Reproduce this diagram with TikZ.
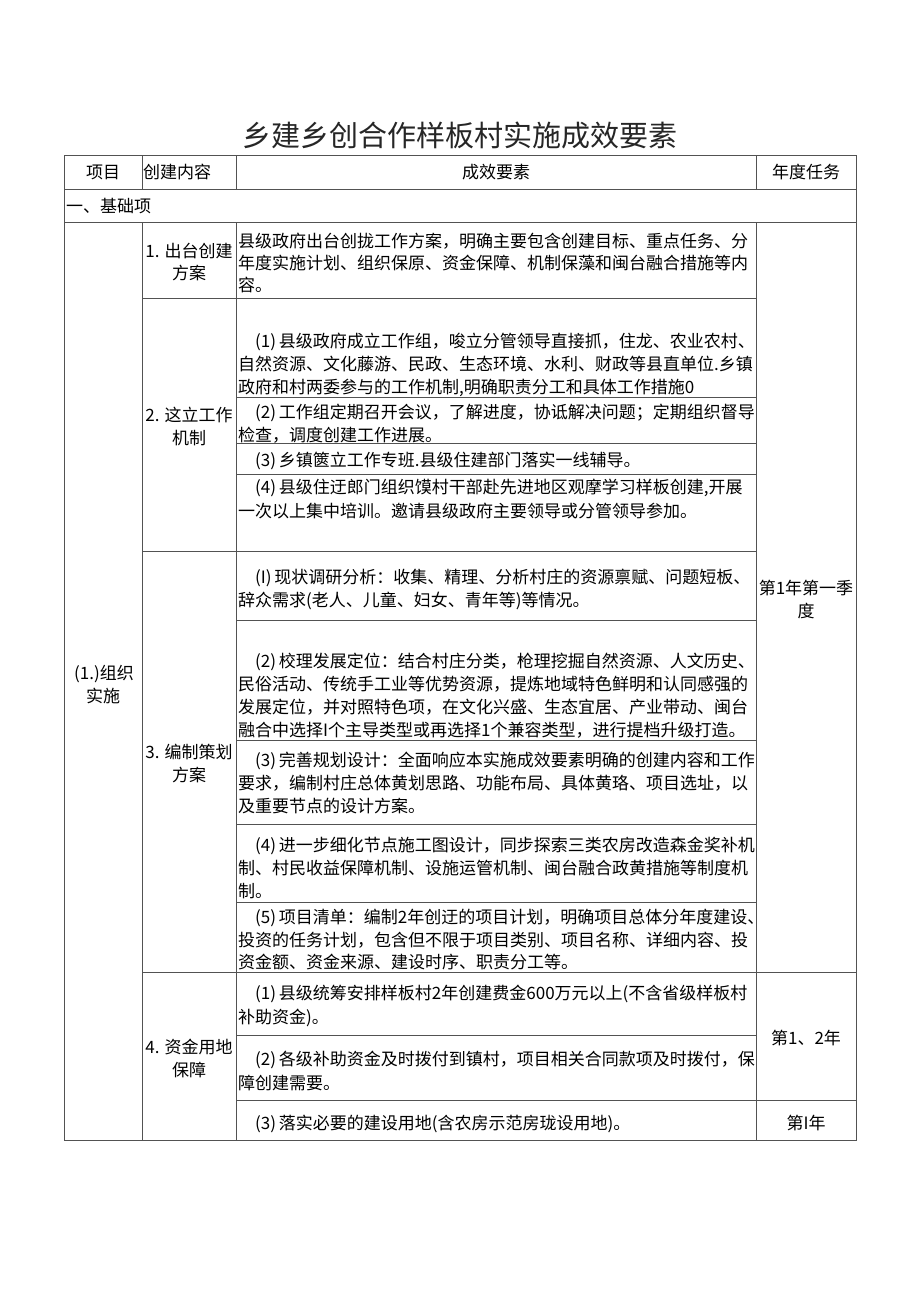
\documentclass[tikz,border=0pt]{standalone}
\usepackage{fontspec}
\newfontfamily\cjk{Noto Sans CJK SC}
\begin{document}
\begin{tikzpicture}[x=1pt,y=-1pt,
  grid/.style={draw=black!68, line width=0.9pt},
  ln/.style={anchor=base west, inner sep=0pt, yshift=-6.5pt, text=black, font=\cjk\fontsize{17}{20}\selectfont},
  lc/.style={anchor=base, inner sep=0pt, yshift=-6.5pt, text=black, font=\cjk\fontsize{17}{20}\selectfont},
  ttl/.style={anchor=base, inner sep=0pt, yshift=-11pt, text=black!85, font=\cjk\fontsize{29}{32}\selectfont}]
\fill[white] (0,0) rectangle (920,1301);
\useasboundingbox (0,0) rectangle (920,1301);

% title
\node[ttl] (title) at (460,135) {乡建乡创合作样板村实施成效要素};

% grid
\draw[grid] (64,155) rectangle (856,1140);
\draw[grid] (64,189) -- (856,189) (64,222) -- (856,222);
\draw[grid] (142,155) -- (142,189) (236,155) -- (236,189) (756,155) -- (756,189);
\draw[grid] (142,222) -- (142,1140) (236,222) -- (236,1140) (756,222) -- (756,1140);
\draw[grid] (142,298) -- (756,298) (142,551) -- (756,551) (142,972) -- (856,972) (236,1100) -- (856,1100);
\draw[grid] (236,397) -- (756,397) (236,443) -- (756,443) (236,474) -- (756,474);
\draw[grid] (236,620) -- (756,620) (236,740) -- (756,740) (236,824) -- (756,824) (236,902) -- (756,902);
\draw[grid] (236,1035) -- (756,1035);

% header
\node[lc] (h1) at (103,172) {项目};
\node[ln] (h2) at (143,172) {创建内容};
\node[lc] (h3) at (496,172) {成效要素};
\node[lc] (h4) at (806,172) {年度任务};
\node[ln] (s1) at (66,206) {一、基础项};

% column 1
\node[lc] (p1a) at (104,673) {(1.)组织};
\node[lc] (p1b) at (103,696) {实施};

% column 2
\node[lc] (c1a) at (189,251) {1. 出台创建};
\node[lc] (c1b) at (189,273) {方案};
\node[lc] (c2a) at (189,415) {2. 这立工作};
\node[lc] (c2b) at (189,438) {机制};
\node[lc] (c3a) at (189,752) {3. 编制策划};
\node[lc] (c3b) at (189,775) {方案};
\node[lc] (c4a) at (189,1047) {4. 资金用地};
\node[lc] (c4b) at (189,1070) {保障};

% year column
\node[lc] (y1a) at (806,588) {第1年第一季};
\node[lc] (y1b) at (806,611) {度};
\node[lc] (y2) at (806,1038) {第1、2年};
\node[lc] (y3) at (806,1123) {第I年};

% row 1
\node[ln] (r1a) at (238,241) {县级政府出台创拢工作方案，明确主要包含创建目标、重点任务、分};
\node[ln] (r1b) at (238,263) {年度实施计划、组织保原、资金保障、机制保藻和闽台融合措施等内};
\node[ln] (r1c) at (238,285) {容。};

% row 2
\node[ln] (r21a) at (255,341) {(1)\,县级政府成立工作组，唆立分管领导直接抓，住龙、农业农村、};
\node[ln] (r21b) at (238,364) {自然资源、文化藤游、民政、生态环境、水利、财政等县直单位.乡镇};
\node[ln] (r21c) at (238,387) {政府和村两委参与的工作机制,明确职责分工和具体工作措施0};
\node[ln] (r22a) at (255,412) {(2)\,工作组定期召开会议，了解进度，协诋解决问题；定期组织督导};
\node[ln] (r22b) at (238,435) {检查，调度创建工作进展。};
\node[ln] (r23a) at (255,460) {(3)\,乡镇篋立工作专班.县级住建部门落实一线辅导。};
\node[ln] (r24a) at (255,487) {(4)\,县级住迂郎门组织馍村干部赴先进地区观摩学习样板创建,开展};
\node[ln] (r24b) at (238,511) {一次以上集中培训。邀请县级政府主要领导或分管领导参加。};

% row 3
\node[ln] (r31a) at (255,577) {(I)\,现状调研分析：收集、精理、分析村庄的资源禀赋、问题短板、};
\node[ln] (r31b) at (238,600) {辞众需求(老人、儿童、妇女、青年等)等情况。};
\node[ln] (r32a) at (255,661) {(2)\,校理发展定位：结合村庄分类，枪理挖掘自然资源、人文历史、};
\node[ln] (r32b) at (238,684) {民俗活动、传统手工业等优势资源，提炼地域特色鲜明和认同感强的};
\node[ln] (r32c) at (238,707) {发展定位，并对照特色项，在文化兴盛、生态宜居、产业带动、闽台};
\node[ln] (r32d) at (238,730) {融合中选择I个主导类型或再选择1个兼容类型，进行提档升级打造。};
\node[ln] (r33a) at (255,760) {(3)\,完善规划设计：全面响应本实施成效要素明确的创建内容和工作};
\node[ln] (r33b) at (238,783) {要求，编制村庄总体黄划思路、功能布局、具体黄珞、项目选址，以};
\node[ln] (r33c) at (238,806) {及重要节点的设计方案。};
\node[ln] (r34a) at (255,845) {(4)\,进一步细化节点施工图设计，同步探索三类农房改造森金奖补机};
\node[ln] (r34b) at (238,868) {制、村民收益保障机制、设施运管机制、闽台融合政黄措施等制度机};
\node[ln] (r34c) at (238,891) {制。};
\node[ln] (r35a) at (255,917) {(5)\,项目清单：编制2年创迂的项目计划，明确项目总体分年度建设、};
\node[ln] (r35b) at (238,940) {投资的任务计划，包含但不限于项目类别、项目名称、详细内容、投};
\node[ln] (r35c) at (238,962) {资金额、资金来源、建设时序、职责分工等。};

% row 4
\node[ln] (r41a) at (255,993) {(1)\,县级统筹安排样板村2年创建费金600万元以上(不含省级样板村};
\node[ln] (r41b) at (238,1017) {补助资金)。};
\node[ln] (r42a) at (255,1059) {(2)\,各级补助资金及时拨付到镇村，项目相关合同款项及时拨付，保};
\node[ln] (r42b) at (238,1083) {障创建需要。};
\node[ln] (r43a) at (255,1123) {(3)\,落实必要的建设用地(含农房示范房珑设用地)。};
\end{tikzpicture}
\end{document}
